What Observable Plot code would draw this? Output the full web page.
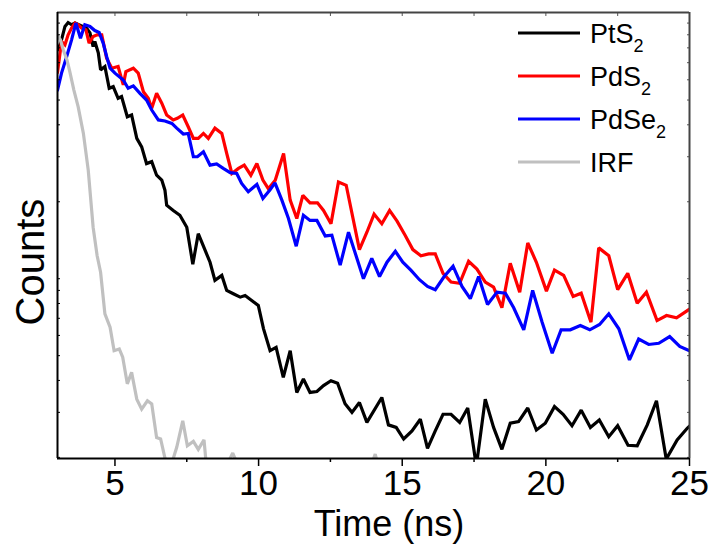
<!DOCTYPE html>
<html>
<head>
<meta charset="utf-8">
<script src="https://cdn.jsdelivr.net/npm/d3@7"></script>
<script src="https://cdn.jsdelivr.net/npm/@observablehq/plot@0.6"></script>
<style>
  body { margin: 0; background: #fff; }
  #chart { position: relative; width: 712px; height: 544px; }
</style>
</head>
<body>
<div id="chart"></div>
<script>
// ---- data: [time (ns), counts] ----
const pts2 = [[3.01,785],[3.11,835],[3.26,970],[3.37,1005],[3.49,985],[3.61,1000],[3.82,976],[4.01,956],[4.13,916],[4.24,809],[4.30,847],[4.42,765],[4.50,656],[4.65,676],[4.80,556],[4.94,564],[5.11,508],[5.23,516],[5.43,430],[5.58,437],[5.76,354],[5.93,328],[6.10,282],[6.28,287],[6.45,254],[6.63,243],[6.74,222],[6.80,194],[7.03,185],[7.26,177],[7.50,159],[7.71,114],[7.90,150],[8.14,129],[8.31,116],[8.48,98.5],[8.72,103],[8.89,90],[9.12,87.3],[9.36,84.7],[9.53,86],[9.76,82.2],[9.99,78.6],[10.17,63.8],[10.40,52.3],[10.61,53.9],[10.86,41.1],[11.10,52.3],[11.33,35.9],[11.56,40.5],[11.79,35.9],[12.03,36.2],[12.26,38.2],[12.52,39.9],[12.75,39.0],[13.01,32.4],[13.25,30.0],[13.51,32.8],[13.77,27.4],[14.29,34.3],[14.52,26.8],[14.79,26.2],[15.05,23.6],[15.34,25.4],[15.63,28.2],[15.88,21.7],[16.15,25.4],[16.42,29.5],[16.70,29.5],[17.00,27.4],[17.28,31.2],[17.58,18.5],[17.89,33.8],[18.18,26.2],[18.47,21.5],[18.76,27.2],[19.05,27.6],[19.37,31.2],[19.67,25.6],[19.98,27.2],[20.30,31.6],[20.60,29.5],[20.91,26.6],[21.23,30.6],[21.55,26.2],[21.86,28.0],[22.19,24.1],[22.50,26.6],[22.86,22.3],[23.18,22.2],[23.53,26.8],[23.85,33.3],[24.19,19.7],[24.57,23.4],[24.92,26.0],[25.0,26.5]];

const pds2 = [[3.0,640],[3.14,847],[3.26,822],[3.37,900],[3.49,956],[3.61,1000],[3.72,985],[3.84,956],[3.99,941],[4.10,835],[4.24,886],[4.38,900],[4.54,900],[4.71,729],[4.89,666],[5.11,676],[5.29,573],[5.38,646],[5.64,666],[5.81,637],[5.99,539],[6.16,508],[6.28,464],[6.45,531],[6.63,486],[6.80,437],[7.03,418],[7.17,424],[7.36,437],[7.55,393],[7.73,354],[7.90,354],[8.08,370],[8.25,354],[8.48,388],[8.72,370],[8.89,309],[9.07,258],[9.30,270],[9.50,278],[9.73,254],[9.94,282],[10.15,243],[10.34,225],[10.58,243],[10.87,309],[11.10,203],[11.33,172],[11.54,212],[11.79,198],[12.05,198],[12.26,185],[12.52,164],[12.78,239],[13.05,232],[13.51,130],[13.77,152],[14.02,179],[14.29,164],[14.56,185],[14.82,168],[15.10,148],[15.37,130],[15.65,123],[15.92,125],[16.15,125],[16.42,105],[16.70,97],[17.00,96],[17.31,117],[17.60,109],[17.89,97],[18.18,92.7],[18.47,77],[18.76,115],[19.09,88.6],[19.37,138],[19.67,116],[20.02,89.4],[20.30,108],[20.62,103],[20.95,85.2],[21.23,87.8],[21.57,67.6],[21.84,132],[22.19,123],[22.50,90.6],[22.85,105],[23.18,80.2],[23.50,88.6],[23.87,68.6],[24.20,71.8],[24.55,70.3],[25.0,76]];

const pdse2 = [[3.0,547],[3.14,637],[3.32,740],[3.49,860],[3.64,1000],[3.80,873],[3.95,985],[4.13,970],[4.30,935],[4.45,919],[4.59,835],[4.71,740],[4.83,666],[5.0,637],[5.29,599],[5.46,556],[5.64,568],[5.87,531],[6.10,500],[6.28,457],[6.51,418],[6.74,414],[6.98,405],[7.15,388],[7.38,368],[7.55,370],[7.73,300],[7.87,300],[8.08,314],[8.31,278],[8.54,281],[8.77,270],[9.01,260],[9.24,258],[9.41,236],[9.64,219],[9.94,234],[10.15,206],[10.40,223],[10.57,237],[10.81,203],[11.04,172],[11.31,134],[11.56,177],[11.79,169],[12.03,169],[12.32,147],[12.55,148],[12.84,113],[13.13,152],[13.65,100],[13.94,120],[14.21,102],[14.47,116],[14.76,128],[15.02,116],[15.30,108],[15.60,99.1],[15.88,93.3],[16.15,90.6],[16.46,102],[16.77,112],[17.08,93.3],[17.37,83.5],[17.66,102],[17.97,79.3],[18.30,88.6],[18.59,87.8],[18.88,77.0],[19.23,63.1],[19.54,90.0],[19.87,67.6],[20.22,51.1],[20.53,63.1],[20.85,63.1],[21.20,65.6],[21.53,63.1],[21.87,66.2],[22.19,72.9],[22.54,63.7],[22.91,48.1],[23.23,58.1],[23.58,55.3],[23.93,55.9],[24.31,59.4],[24.66,54.3],[25.0,52.3]];

const irf = [[3.0,892],[3.10,860],[3.20,786],[3.33,718],[3.43,644],[3.57,547],[3.72,470],[3.90,371],[4.07,266],[4.19,185],[4.24,159],[4.38,123],[4.50,106],[4.65,72.9],[4.83,64.6],[4.97,52.3],[5.15,53.1],[5.27,49.3],[5.43,38.8],[5.58,43.0],[5.76,33.8],[5.93,30.9],[6.13,33.3],[6.28,32.4],[6.45,23.9],[6.59,23.6],[6.78,19.0],[6.98,19.0],[7.15,21.9],[7.36,27.8],[7.52,22.2],[7.73,23.1],[7.90,21.5],[8.10,23.4],[8.20,17.7],[8.48,16.9],[8.80,17.7],[9.10,20.8],[9.36,17.7],[9.70,16],[10.30,15],[11.0,16],[11.8,15],[12.5,16],[13.2,15],[13.8,17],[14.06,20.6],[14.3,16],[15.0,14]];

const seriesKeys = ["PtS2", "PdS2", "PdSe2", "IRF"];
const legendBase = ["PtS", "PdS", "PdSe", "IRF"];
const legendSub = ["2", "2", "2", ""];
const seriesColors = ["#000000", "#ff0000", "#0000ff", "#c0c0c0"];

const xTicks = [5, 10, 15, 20, 25];
const xMinorTicks = [7.5, 12.5, 17.5, 22.5];
const xAllTicks = [5, 7.5, 10, 12.5, 15, 17.5, 20, 22.5, 25];
const yTicks = [20, 30, 40, 50, 60, 70, 80, 90, 100, 200, 300, 400, 500, 600, 700, 800, 900, 1000];
const xDomain = [3, 25];
const yDomain = [19.8, 1100];

const allSeries = [pts2, pds2, pdse2, irf];
const rows = allSeries.flatMap((arr, i) => arr.map(([t, c]) => ({t, c, s: seriesKeys[i]})));

const FONT = "Arial, 'Liberation Sans', Helvetica, sans-serif";
const blank = () => "";

const plot = Plot.plot({
  width: 712,
  height: 544,
  marginLeft: 57,
  marginRight: 23,
  marginTop: 12,
  marginBottom: 86,
  style: {fontFamily: FONT, fontSize: "35px", background: "white", overflow: "visible", color: "black"},
  x: {domain: xDomain},
  y: {type: "log", domain: yDomain},
  color: {domain: seriesKeys, range: seriesColors},
  marks: [
    Plot.line(rows, {x: "t", y: "c", z: "s", stroke: "s", strokeWidth: 3.2, clip: true, strokeLinejoin: "miter", strokeMiterlimit: 2}),
    Plot.axisX({anchor: "bottom", ticks: xTicks, tickSize: 8, tickPadding: 4, fontSize: 35, label: null, strokeWidth: 1.5}),
    Plot.axisX({anchor: "bottom", ticks: xMinorTicks, tickSize: 4, tickFormat: blank, label: null, strokeWidth: 1.5}),
    Plot.axisX({anchor: "top", ticks: xAllTicks, tickSize: -3, tickFormat: blank, label: null, stroke: "#555"}),
    Plot.axisY({anchor: "left", ticks: yTicks, tickSize: -3, tickFormat: blank, label: null}),
    Plot.axisY({anchor: "right", ticks: yTicks, tickSize: -3, tickFormat: blank, label: null, stroke: "#555"}),
    Plot.ruleY([yDomain[1]], {stroke: "#444", strokeWidth: 2}),
    Plot.ruleX([xDomain[1]], {stroke: "#444", strokeWidth: 2}),
    Plot.ruleY([yDomain[0]], {stroke: "black", strokeWidth: 2}),
    Plot.ruleX([xDomain[0]], {stroke: "black", strokeWidth: 2})
  ]
});

document.getElementById("chart").appendChild(plot);

// axis titles and legend (layout only)
const svg = d3.select(plot);
svg.append("text")
  .attr("x", 389).attr("y", 536)
  .attr("text-anchor", "middle")
  .attr("font-family", FONT).attr("font-size", 36)
  .attr("fill", "black")
  .text("Time (ns)");
svg.append("text")
  .attr("transform", "translate(44,262) rotate(-90)")
  .attr("text-anchor", "middle")
  .attr("font-family", FONT).attr("font-size", 40)
  .attr("fill", "black")
  .text("Counts");

const lg = svg.append("g").attr("font-family", FONT).attr("text-anchor", "start");
seriesKeys.forEach((k, i) => {
  const yy = 33 + i * 43;
  lg.append("line").attr("x1", 518).attr("x2", 580).attr("y1", yy).attr("y2", yy)
    .attr("stroke", seriesColors[i]).attr("stroke-width", 3);
  const tx = lg.append("text").attr("x", 590).attr("y", yy + 10)
    .attr("text-anchor", "start")
    .attr("font-size", 27).attr("fill", "black");
  tx.append("tspan").text(legendBase[i]);
  if (legendSub[i]) tx.append("tspan").attr("dy", 9).attr("font-size", 18).text(legendSub[i]);
});
</script>
</body>
</html>
